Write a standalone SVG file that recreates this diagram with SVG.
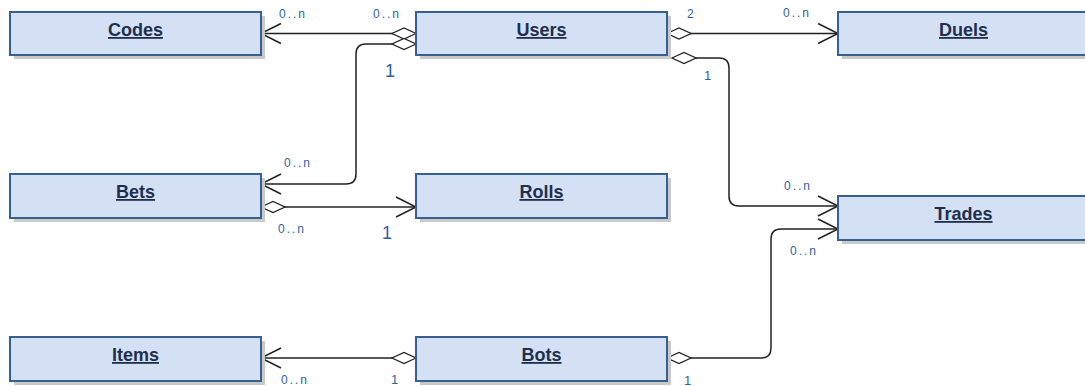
<svg xmlns="http://www.w3.org/2000/svg" width="1085" height="386" viewBox="0 0 1085 386">
<defs>
<style>
.shadow{fill:#c9c9c9;}
.box{fill:#d4e1f4;stroke:#35608f;stroke-width:2;}
.title{font-family:"Liberation Sans",Arial,sans-serif;font-size:18px;font-weight:bold;fill:#1e2f4e;text-anchor:middle;text-decoration:underline;}
.conn{fill:none;stroke:#222;stroke-width:1.5;marker-start:url(#dia);marker-end:url(#arr);}
.lbl{font-family:"Liberation Sans",Arial,sans-serif;font-size:12px;fill:#2f62a0;letter-spacing:2px;}
.big{font-family:"Liberation Sans",Arial,sans-serif;font-size:18px;fill:#2f62a0;}
.one{font-family:"Liberation Sans",Arial,sans-serif;font-size:13px;fill:#2f62a0;}
</style>
<marker id="arr" markerUnits="userSpaceOnUse" viewBox="-22 -12 24 24" markerWidth="24" markerHeight="24" refX="0" refY="0" orient="auto" overflow="visible">
<path d="M-20,-10 L0,0 L-20,10" fill="none" stroke="#222" stroke-width="1.5"/>
</marker>
<marker id="dia" markerUnits="userSpaceOnUse" viewBox="-1 -7 26 14" markerWidth="26" markerHeight="14" refX="0" refY="0" orient="auto" overflow="visible">
<path d="M0,0 L12,-5.5 L24,0 L12,5.5 Z" fill="#fff" stroke="#222" stroke-width="1.3"/>
</marker>
</defs>
<rect width="1085" height="386" fill="#fff"/>

<g id="connectors">
<path class="conn" d="M416,33.5 L261,33.5"/>
<path class="conn" d="M416,44 L366,44 Q356,44 356,54 L356,174 Q356,184 346,184 L261,184"/>
<path class="conn" d="M261,207 L416,207"/>
<path class="conn" d="M667,33.5 L838,33.5"/>
<path class="conn" d="M672,58 L719,58 Q729,58 729,68 L729,196 Q729,206 739,206 L838,206"/>
<path class="conn" d="M667,358 L761,358 Q771,358 771,348 L771,239 Q771,229 781,229 L838,229"/>
<path class="conn" d="M416,358 L261,358"/>
</g>

<g id="labels">
<text class="lbl" x="279" y="18">0..n</text>
<text class="lbl" x="373" y="18">0..n</text>
<text class="big" x="385" y="77">1</text>
<text class="lbl" x="687" y="17.5" style="letter-spacing:0">2</text>
<text class="lbl" x="783" y="17">0..n</text>
<text class="one" x="704" y="80">1</text>
<text class="lbl" x="284" y="167">0..n</text>
<text class="lbl" x="278" y="233">0..n</text>
<text class="big" x="382" y="239">1</text>
<text class="lbl" x="784" y="190">0..n</text>
<text class="lbl" x="790" y="255">0..n</text>
<text class="lbl" x="281" y="384">0..n</text>
<text class="one" x="391" y="384">1</text>
<text class="one" x="684" y="385">1</text>
</g>

<g id="Codes">
<rect class="shadow" x="14" y="16" width="251" height="43"/>
<rect class="box" x="10" y="12" width="251" height="43"/>
<text class="title" x="135.5" y="36">Codes</text>
</g>
<g id="Users">
<rect class="shadow" x="420" y="16" width="251" height="43"/>
<rect class="box" x="416" y="12" width="251" height="43"/>
<text class="title" x="541.5" y="36">Users</text>
</g>
<g id="Duels">
<rect class="shadow" x="842" y="16" width="251" height="43"/>
<rect class="box" x="838" y="12" width="251" height="43"/>
<text class="title" x="963.5" y="36">Duels</text>
</g>
<g id="Bets">
<rect class="shadow" x="14" y="178" width="251" height="44"/>
<rect class="box" x="10" y="174" width="251" height="44"/>
<text class="title" x="135.5" y="198">Bets</text>
</g>
<g id="Rolls">
<rect class="shadow" x="420" y="178" width="251" height="44"/>
<rect class="box" x="416" y="174" width="251" height="44"/>
<text class="title" x="541.5" y="198">Rolls</text>
</g>
<g id="Trades">
<rect class="shadow" x="842" y="200" width="251" height="44"/>
<rect class="box" x="838" y="196" width="251" height="44"/>
<text class="title" x="963.5" y="220">Trades</text>
</g>
<g id="Items">
<rect class="shadow" x="14" y="341" width="251" height="44"/>
<rect class="box" x="10" y="337" width="251" height="44"/>
<text class="title" x="135.5" y="361">Items</text>
</g>
<g id="Bots">
<rect class="shadow" x="420" y="341" width="251" height="44"/>
<rect class="box" x="416" y="337" width="251" height="44"/>
<text class="title" x="541.5" y="361">Bots</text>
</g>
</svg>
